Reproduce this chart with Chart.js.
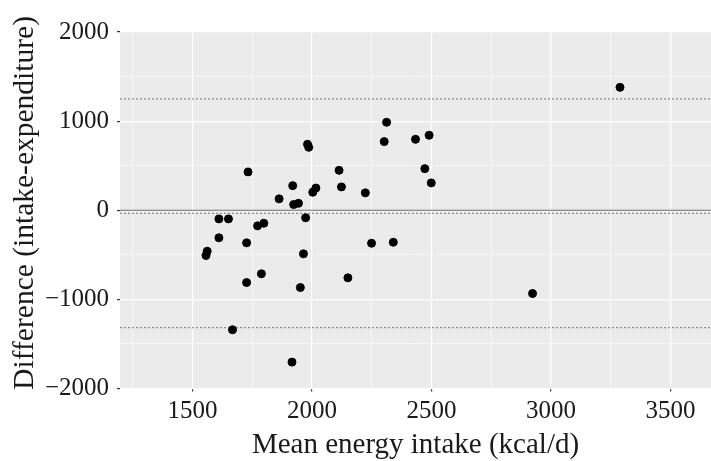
<!DOCTYPE html>
<html>
<head>
<meta charset="utf-8">
<script src="https://cdn.jsdelivr.net/npm/chart.js@4"></script>
<style>
  html, body { margin: 0; padding: 0; background: #fff; }
  #wrap { width: 711px; height: 461px; }
</style>
</head>
<body>
<div id="wrap"><canvas id="myChart" width="711" height="461"></canvas></div>
<script>
// mean energy intake (kcal/d) and intake - expenditure difference, one per subject
const meanIntake = [1732, 1919, 2016, 2003, 1862, 1923, 1943, 1610, 1650, 1973,
  1772, 1798, 1610, 1726, 1561, 1556, 1964, 1788, 1726, 1951,
  1667, 1916, 2312, 2302, 2433, 1981, 1986, 2113, 2123, 2223,
  2249, 2340, 2150, 2490, 2472, 2499, 3289, 2923];
const difference = [430, 276, 249, 202, 128, 64, 78, -97, -97, -84,
  -175, -146, -309, -366, -460, -508, -489, -713, -811, -867,
  -1341, -1704, 987, 770, 796, 740, 706, 448, 262, 195,
  -370, -359, -758, 841, 467, 307, 1379, -934];

// bias and limits of agreement
const meanDiff = -34;
const upperLimit = 1249;
const lowerLimit = -1318;

const xTicks = [1250, 1500, 1750, 2000, 2250, 2500, 2750, 3000, 3250, 3500];
const yTicks = [-2000, -1500, -1000, -500, 0, 500, 1000, 1500, 2000];
const xMin = 1196, xMax = 3670;

const points = meanIntake.map((x, i) => ({ x: x, y: difference[i] }));
const hline = y => [{ x: xMin, y: y }, { x: xMax, y: y }];

const isMajorX = v => v % 500 === 0;
const isMajorY = v => v % 1000 === 0;

const panelBg = {
  id: 'panelBg',
  beforeDraw(chart) {
    const a = chart.chartArea;
    const ctx = chart.ctx;
    ctx.save();
    ctx.fillStyle = '#EBEBEB';
    ctx.fillRect(a.left, a.top, a.right - a.left, a.bottom - a.top);
    ctx.restore();
  }
};

const serif = 'Liberation Serif';

const ctx = document.getElementById('myChart').getContext('2d');
new Chart(ctx, {
  type: 'scatter',
  data: {
    datasets: [
      {
        data: points,
        backgroundColor: '#000',
        borderColor: '#000',
        pointRadius: 4,
        pointHoverRadius: 4
      },
      {
        type: 'line', data: hline(0), borderColor: '#6e6e6e', borderWidth: 1,
        pointRadius: 0, fill: false
      },
      {
        type: 'line', data: hline(meanDiff), borderColor: '#777', borderWidth: 1,
        borderDash: [2, 2], pointRadius: 0, fill: false
      },
      {
        type: 'line', data: hline(upperLimit), borderColor: '#777', borderWidth: 1,
        borderDash: [2, 2], pointRadius: 0, fill: false
      },
      {
        type: 'line', data: hline(lowerLimit), borderColor: '#777', borderWidth: 1,
        borderDash: [2, 2], pointRadius: 0, fill: false
      }
    ]
  },
  options: {
    responsive: false,
    animation: false,
    layout: { autoPadding: false, padding: { left: 0, right: 0, top: 32, bottom: 0 } },
    plugins: { legend: { display: false }, tooltip: { enabled: false } },
    scales: {
      x: {
        type: 'linear',
        min: xMin,
        max: xMax,
        afterBuildTicks: s => { s.ticks = xTicks.map(v => ({ value: v })); },
        afterFit: s => { s.height = 72.5; s.paddingLeft = 0; s.paddingRight = 0; },
        border: { display: false },
        grid: {
          color: '#fff',
          lineWidth: c => (isMajorX(c.tick.value) ? 1.2 : 0.6),
          tickLength: 3,
          tickColor: c => (isMajorX(c.tick.value) ? '#333' : 'rgba(0,0,0,0)')
        },
        ticks: {
          autoSkip: false,
          maxRotation: 0,
          padding: 5,
          color: '#1a1a1a',
          font: { family: serif, size: 25 },
          callback: v => (isMajorX(v) ? String(v) : '')
        },
        title: {
          display: true,
          text: 'Mean energy intake (kcal/d)',
          color: '#1a1a1a',
          font: { family: serif, size: 29 },
          padding: { top: 0, bottom: -2 }
        }
      },
      y: {
        type: 'linear',
        min: -2000,
        max: 2000,
        afterBuildTicks: s => { s.ticks = yTicks.map(v => ({ value: v })); },
        afterFit: s => { s.width = 120; s.paddingTop = 0; s.paddingBottom = 0; },
        border: { display: false },
        grid: {
          color: '#fff',
          lineWidth: c => (isMajorY(c.tick.value) ? 1.2 : 0.6),
          tickLength: 3,
          tickColor: c => (isMajorY(c.tick.value) ? '#333' : 'rgba(0,0,0,0)')
        },
        ticks: {
          autoSkip: false,
          padding: 8,
          color: '#1a1a1a',
          font: { family: serif, size: 25 },
          callback: v => (isMajorY(v) ? (v < 0 ? '\u2212' + Math.abs(v) : String(v)) : '')
        },
        title: {
          display: true,
          text: '  Difference (intake-expenditure)',
          color: '#1a1a1a',
          font: { family: serif, size: 29.5 },
          padding: { top: 8, bottom: 0 }
        }
      }
    }
  },
  plugins: [panelBg]
});
</script>
</body>
</html>
